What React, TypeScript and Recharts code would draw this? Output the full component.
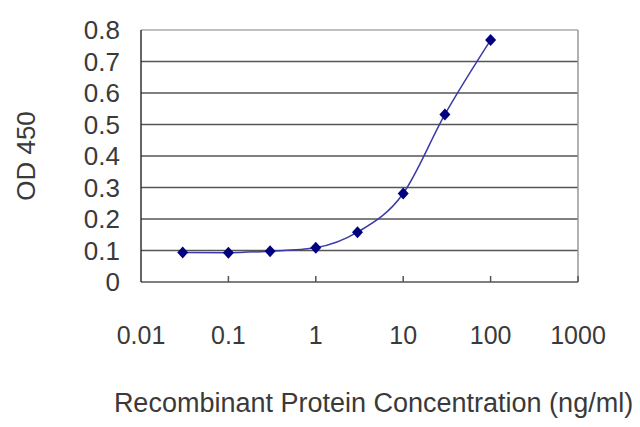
import React from "react";
import {
  LineChart,
  Line,
  XAxis,
  YAxis,
  ReferenceLine,
} from "recharts";

const concentrations = [0.03, 0.1, 0.3, 1, 3, 10, 30, 100];
const odValues = [0.094, 0.093, 0.098, 0.109, 0.158, 0.281, 0.532, 0.768];
const xTicks = [0.01, 0.1, 1, 10, 100, 1000];
const xTickLabels = ["0.01", "0.1", "1", "10", "100", "1000"];
const yTicks = [0, 0.1, 0.2, 0.3, 0.4, 0.5, 0.6, 0.7, 0.8];
const gridValues = [0.1, 0.2, 0.3, 0.4, 0.5, 0.6, 0.7];

const data = concentrations.map((c, i) => ({ conc: c, od: odValues[i] }));

const FONT = "'Liberation Sans', Arial, sans-serif";
const TEXT = "#3a3a3a";

const XTick = (props: any) => {
  const { x, y, payload } = props;
  const idx = xTicks.indexOf(payload.value);
  return (
    <g>
      {idx > 0 && <line x1={x} y1={y} x2={x} y2={y - 6} stroke="#555" strokeWidth={1.5} />}
      <text x={x} y={y} dy={62} textAnchor="middle" fontSize={25} fontFamily={FONT} fill={TEXT}>
        {xTickLabels[idx]}
      </text>
    </g>
  );
};

const YTick = (props: any) => {
  const { x, y, payload } = props;
  return (
    <text x={x} y={y} dy={9} textAnchor="end" fontSize={26} fontFamily={FONT} fill={TEXT}>
      {String(payload.value)}
    </text>
  );
};

const Diamond = (props: any) => {
  const { cx, cy } = props;
  if (cx == null || cy == null) return null;
  return (
    <polygon
      points={`${cx},${cy - 6} ${cx + 5.5},${cy} ${cx},${cy + 6} ${cx - 5.5},${cy}`}
      fill="#000080"
    />
  );
};

export default function App() {
  return (
    <div style={{ position: "absolute", left: 0, top: 0, background: "#fff" }}>
      <LineChart
        width={640}
        height={427}
        data={data}
        margin={{ top: 30, right: 62, left: 0, bottom: 0 }}>
        <XAxis
          dataKey="conc"
          type="number"
          scale="log"
          domain={[0.01, 1000]}
          ticks={xTicks}
          interval={0}
          tick={<XTick />}
          tickLine={false}
          tickSize={0}
          tickMargin={0}
          axisLine={{ stroke: "#555", strokeWidth: 1.5 }}
          height={145}
          allowDataOverflow
          label={(p: any) => {
            const vb = p.viewBox;
            return (
              <text
                x={vb.x + vb.width / 2 + 14}
                y={403}
                dy={9}
                textAnchor="middle"
                fontSize={27}
                fontFamily={FONT}
                fill={TEXT}>
                Recombinant Protein Concentration (ng/ml)
              </text>
            );
          }}
        />
        <YAxis
          type="number"
          domain={[0, 0.8]}
          ticks={yTicks}
          interval={0}
          width={141}
          tickLine={false}
          tickSize={0}
          tickMargin={21}
          axisLine={{ stroke: "#333", strokeWidth: 1.5 }}
          tick={<YTick />}
          label={(p: any) => {
            const vb = p.viewBox;
            const cx = 26;
            const cy = vb.y + vb.height / 2;
            return (
              <text
                x={cx}
                y={cy}
                dy={9}
                textAnchor="middle"
                transform={`rotate(-90, ${cx}, ${cy})`}
                fontSize={26}
                fontFamily={FONT}
                fill={TEXT}>
                OD 450
              </text>
            );
          }}
        />
        {gridValues.map((v) => (
          <ReferenceLine key={v} y={v} stroke="#555" strokeWidth={1.5} />
        ))}
        <ReferenceLine y={0.8} stroke="#aaa" strokeWidth={1.5} />
        <ReferenceLine x={1000} stroke="#999" strokeWidth={1.5} />
        <Line
          type="monotone"
          dataKey="od"
          stroke="#3a3aa8"
          strokeWidth={1.5}
          dot={<Diamond />}
          activeDot={false}
          isAnimationActive={false}
        />
      </LineChart>
    </div>
  );
}
